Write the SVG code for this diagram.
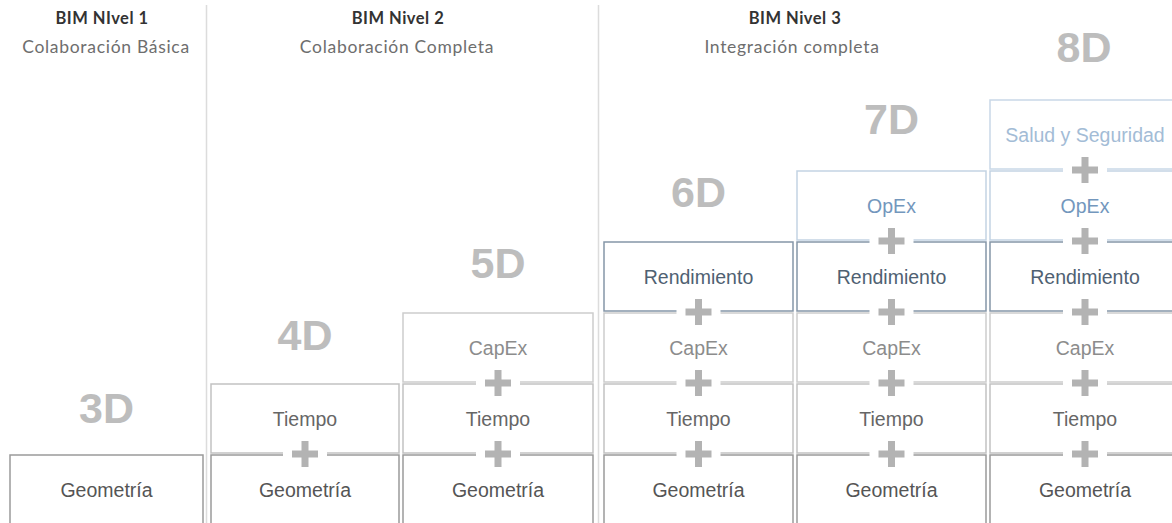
<svg xmlns="http://www.w3.org/2000/svg" width="1172" height="523" viewBox="0 0 1172 523">
  <style>
    .hdr{font-family:Lato,"Open Sans",sans-serif;font-weight:bold;font-size:16.5px;letter-spacing:0.5px;fill:#333;text-anchor:middle}
    .sub{font-family:Lato,"Open Sans",sans-serif;font-size:17.5px;letter-spacing:0.7px;fill:#6e6e6e;text-anchor:middle}
    .big{font-family:"Liberation Sans",Arial,sans-serif;font-weight:bold;font-size:43px;fill:#bdbdbd;text-anchor:middle}
    .lbl{font-family:"Liberation Sans",Arial,sans-serif;font-size:19.5px;text-anchor:middle}
    .sep{stroke:#dcdcdc;stroke-width:1.5}
    rect.b{fill:#fff;stroke-width:1.5}
    .geo rect{stroke:#9a9a9a}.geo text{fill:#555}
    .tie rect{stroke:#c2c2c2}.tie text{fill:#666}
    .cap rect{stroke:#cdcdcd}.cap text{fill:#8c8c8c}
    .ren rect{stroke:#8596a8}.ren text{fill:#4f6172}
    .opx rect{stroke:#c3d3e3}.opx text{fill:#7397bd}
    .sal rect{stroke:#c9d8e7}.sal text{fill:#a3bcd6}
    .gap{fill:#fff}
    .plus{stroke:#b3b3b3;stroke-width:7}
  </style>
  <rect width="1172" height="523" fill="#fff"/>
  <g id="separators">
    <line class="sep" x1="206.5" y1="5" x2="206.5" y2="523"/>
    <line class="sep" x1="598.5" y1="5" x2="598.5" y2="523"/>
  </g>
  <g id="headers">
    <text class="hdr" x="102" y="24">BIM NIvel 1</text>
    <text class="sub" x="106" y="53">Colaboración Básica</text>
    <text class="hdr" x="398" y="24">BIM Nivel 2</text>
    <text class="sub" x="397" y="53">Colaboración Completa</text>
    <text class="hdr" x="795" y="24">BIM Nivel 3</text>
    <text class="sub" x="792" y="53">Integración completa</text>
  </g>
  <g id="dim-labels">
    <text class="big" x="106.5" y="423">3D</text>
    <text class="big" x="305" y="350">4D</text>
    <text class="big" x="498" y="278">5D</text>
    <text class="big" x="698.5" y="207">6D</text>
    <text class="big" x="891.5" y="134">7D</text>
    <text class="big" x="1084" y="62">8D</text>
  </g>
  <!-- Column 1 -->
  <g id="c1-geometria" class="geo"><rect class="b" x="10" y="455" width="193" height="69"/><text class="lbl" x="106.5" y="497">Geometría</text></g>
  <!-- Column 2 -->
  <g id="c2-geometria" class="geo"><rect class="b" x="211" y="455" width="188" height="69"/><text class="lbl" x="305" y="497">Geometría</text></g>
  <g id="c2-tiempo" class="tie"><rect class="b" x="211" y="384" width="188" height="69"/><text class="lbl" x="305" y="426">Tiempo</text></g>
  <!-- Column 3 -->
  <g id="c3-geometria" class="geo"><rect class="b" x="403" y="455" width="190" height="69"/><text class="lbl" x="498" y="497">Geometría</text></g>
  <g id="c3-tiempo" class="tie"><rect class="b" x="403" y="384" width="190" height="69"/><text class="lbl" x="498" y="426">Tiempo</text></g>
  <g id="c3-capex" class="cap"><rect class="b" x="403" y="313" width="190" height="69"/><text class="lbl" x="498" y="355">CapEx</text></g>
  <!-- Column 4 -->
  <g id="c4-geometria" class="geo"><rect class="b" x="604" y="455" width="189" height="69"/><text class="lbl" x="698.5" y="497">Geometría</text></g>
  <g id="c4-tiempo" class="tie"><rect class="b" x="604" y="384" width="189" height="69"/><text class="lbl" x="698.5" y="426">Tiempo</text></g>
  <g id="c4-capex" class="cap"><rect class="b" x="604" y="313" width="189" height="69"/><text class="lbl" x="698.5" y="355">CapEx</text></g>
  <g id="c4-rendimiento" class="ren"><rect class="b" x="604" y="242" width="189" height="69"/><text class="lbl" x="698.5" y="284">Rendimiento</text></g>
  <!-- Column 5 -->
  <g id="c5-geometria" class="geo"><rect class="b" x="797" y="455" width="189" height="69"/><text class="lbl" x="891.5" y="497">Geometría</text></g>
  <g id="c5-tiempo" class="tie"><rect class="b" x="797" y="384" width="189" height="69"/><text class="lbl" x="891.5" y="426">Tiempo</text></g>
  <g id="c5-capex" class="cap"><rect class="b" x="797" y="313" width="189" height="69"/><text class="lbl" x="891.5" y="355">CapEx</text></g>
  <g id="c5-rendimiento" class="ren"><rect class="b" x="797" y="242" width="189" height="69"/><text class="lbl" x="891.5" y="284">Rendimiento</text></g>
  <g id="c5-opex" class="opx"><rect class="b" x="797" y="171" width="189" height="69"/><text class="lbl" x="891.5" y="213">OpEx</text></g>
  <!-- Column 6 -->
  <g id="c6-geometria" class="geo"><rect class="b" x="990" y="455" width="190" height="69"/><text class="lbl" x="1085" y="497">Geometría</text></g>
  <g id="c6-tiempo" class="tie"><rect class="b" x="990" y="384" width="190" height="69"/><text class="lbl" x="1085" y="426">Tiempo</text></g>
  <g id="c6-capex" class="cap"><rect class="b" x="990" y="313" width="190" height="69"/><text class="lbl" x="1085" y="355">CapEx</text></g>
  <g id="c6-rendimiento" class="ren"><rect class="b" x="990" y="242" width="190" height="69"/><text class="lbl" x="1085" y="284">Rendimiento</text></g>
  <g id="c6-opex" class="opx"><rect class="b" x="990" y="171" width="190" height="69"/><text class="lbl" x="1085" y="213">OpEx</text></g>
  <g id="c6-salud" class="sal"><rect class="b" x="990" y="100" width="190" height="69"/><text class="lbl" x="1085" y="142">Salud y Seguridad</text></g>
  <defs>
    <g id="plus">
      <rect class="gap" x="-22" y="-5" width="44" height="10"/>
      <path class="plus" d="M-13 0H13M0 -13V13"/>
    </g>
  </defs>
  <g id="connectors">
    <use href="#plus" x="305" y="454"/>
    <use href="#plus" x="498" y="454"/>
    <use href="#plus" x="498" y="383"/>
    <use href="#plus" x="698.5" y="454"/>
    <use href="#plus" x="698.5" y="383"/>
    <use href="#plus" x="698.5" y="312"/>
    <use href="#plus" x="891.5" y="454"/>
    <use href="#plus" x="891.5" y="383"/>
    <use href="#plus" x="891.5" y="312"/>
    <use href="#plus" x="891.5" y="241"/>
    <use href="#plus" x="1085" y="454"/>
    <use href="#plus" x="1085" y="383"/>
    <use href="#plus" x="1085" y="312"/>
    <use href="#plus" x="1085" y="241"/>
    <use href="#plus" x="1085" y="170"/>
  </g>
</svg>
